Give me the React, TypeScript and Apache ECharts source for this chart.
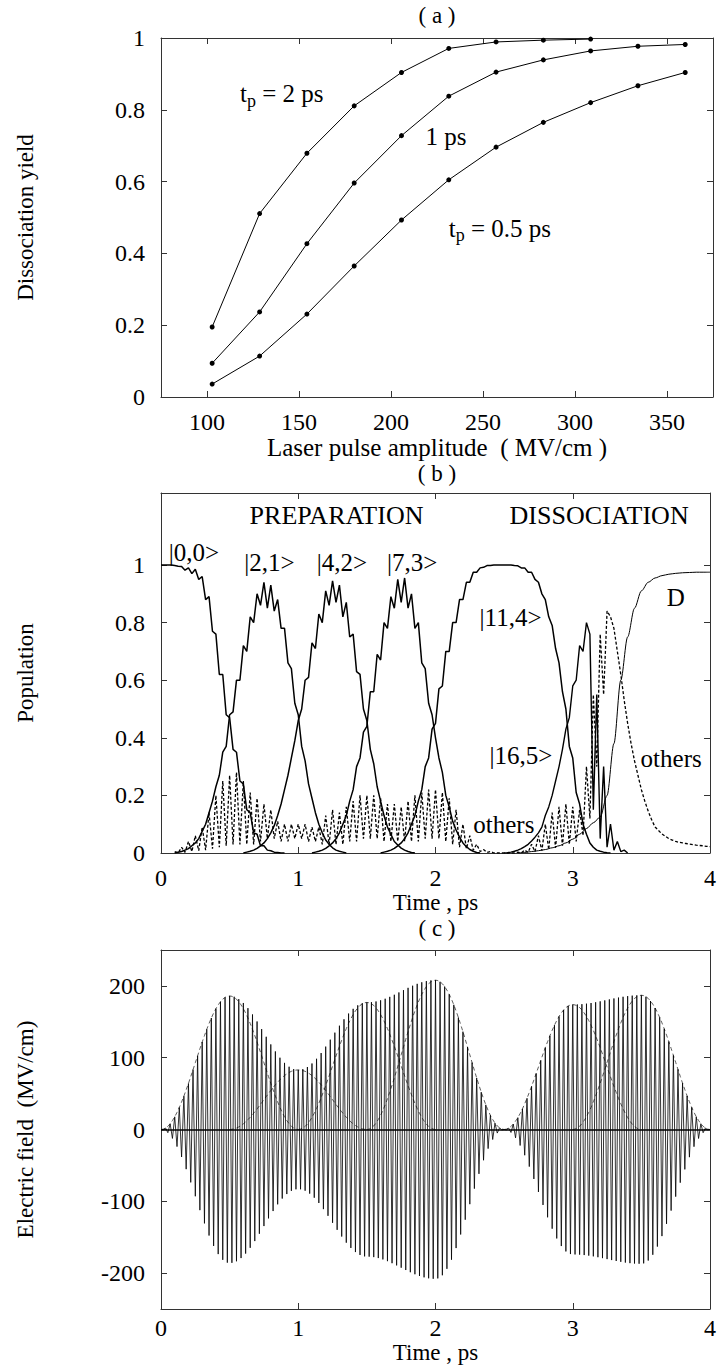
import React, { useEffect, useRef } from "react";
import * as echarts from "echarts";

// ---------------- panel (a): dissociation yield ----------------
const amplitudes = [102.8, 128.6, 154.3, 180.0, 205.7, 231.4, 257.1, 282.8, 308.5, 334.2, 359.9];
const yieldTp2 = [0.195, 0.511, 0.679, 0.811, 0.904, 0.971, 0.989, 0.994, 0.997];
const yieldTp1 = [0.094, 0.237, 0.427, 0.596, 0.728, 0.838, 0.905, 0.939, 0.964, 0.977, 0.982];
const yieldTp05 = [0.036, 0.114, 0.231, 0.365, 0.493, 0.605, 0.696, 0.765, 0.82, 0.867, 0.904];
const ampTicks = [100, 150, 200, 250, 300, 350];
const yieldTicks = [0, 0.2, 0.4, 0.6, 0.8, 1];

// ---------------- panel (b): populations (time step 0.025 ps) ----------------
const popStep = 0.025;
const pop00Start = 0;
const pop00 = [1, 1, 1, 1, 0.998, 0.996, 0.995, 0.982, 0.99, 0.97, 0.985, 0.95, 0.96, 0.88, 0.89, 0.77, 0.76, 0.62, 0.62, 0.48, 0.47, 0.36, 0.35, 0.25, 0.24, 0.15, 0.14, 0.07, 0.065, 0.025, 0.025, 0.01, 0.008, 0.003, 0.002, 0, 0];
const pop21Start = 0.1;
const pop21 = [0, 0.003, 0.005, 0.01, 0.015, 0.025, 0.035, 0.05, 0.075, 0.1, 0.14, 0.18, 0.23, 0.27, 0.35, 0.37, 0.48, 0.49, 0.6, 0.6, 0.72, 0.7, 0.82, 0.8, 0.9, 0.86, 0.94, 0.85, 0.93, 0.84, 0.88, 0.78, 0.78, 0.66, 0.64, 0.52, 0.48, 0.37, 0.32, 0.24, 0.19, 0.14, 0.1, 0.07, 0.045, 0.03, 0.018, 0.01, 0.006, 0.003, 0];
const pop42Start = 0.6;
const pop42 = [0, 0.003, 0.006, 0.01, 0.016, 0.025, 0.035, 0.05, 0.07, 0.095, 0.13, 0.17, 0.22, 0.27, 0.33, 0.39, 0.46, 0.5, 0.6, 0.61, 0.73, 0.71, 0.83, 0.8, 0.91, 0.86, 0.945, 0.87, 0.93, 0.82, 0.87, 0.75, 0.76, 0.63, 0.62, 0.5, 0.46, 0.36, 0.31, 0.23, 0.18, 0.13, 0.09, 0.065, 0.04, 0.028, 0.017, 0.01, 0.005, 0.002, 0];
const pop73Start = 1.1;
const pop73 = [0, 0.003, 0.006, 0.01, 0.016, 0.025, 0.035, 0.05, 0.07, 0.1, 0.13, 0.18, 0.22, 0.3, 0.33, 0.42, 0.44, 0.56, 0.56, 0.69, 0.67, 0.8, 0.78, 0.89, 0.85, 0.95, 0.87, 0.955, 0.85, 0.9, 0.78, 0.8, 0.66, 0.64, 0.52, 0.48, 0.4, 0.33, 0.28, 0.2, 0.16, 0.11, 0.08, 0.055, 0.035, 0.022, 0.012, 0.006, 0.002, 0];
const pop114Start = 1.6;
const pop114 = [0, 0.003, 0.006, 0.01, 0.016, 0.025, 0.035, 0.05, 0.07, 0.1, 0.13, 0.18, 0.22, 0.3, 0.33, 0.43, 0.45, 0.57, 0.58, 0.7, 0.7, 0.8, 0.8, 0.88, 0.88, 0.94, 0.94, 0.975, 0.975, 0.99, 0.992, 0.998, 0.998, 1, 1, 1, 1, 1, 1, 0.998, 0.997, 0.99, 0.99, 0.975, 0.975, 0.95, 0.94, 0.9, 0.88, 0.82, 0.79, 0.71, 0.66, 0.56, 0.5, 0.37, 0.33, 0.21, 0.17, 0.1, 0.065, 0.035, 0.02, 0.01, 0.006, 0.003, 0.001, 0];
const pop165Start = 2.5;
const pop165 = [0, 0.001, 0.003, 0.006, 0.01, 0.015, 0.022, 0.03, 0.042, 0.055, 0.07, 0.09, 0.13, 0.16, 0.2, 0.25, 0.3, 0.36, 0.43, 0.47, 0.58, 0.6, 0.72, 0.7, 0.8, 0.76, 0.15, 0.55, 0.05, 0.3, 0.02, 0.1, 0.01, 0.04, 0.005, 0.01, 0];
const dissStart = 2.6;
const dissStep = 0.05;
const dissociated = [0, 0.002, 0.005, 0.008, 0.012, 0.018, 0.025, 0.035, 0.048, 0.065, 0.085, 0.105, 0.125, 0.2, 0.38, 0.6, 0.75, 0.85, 0.91, 0.94, 0.955, 0.963, 0.968, 0.971, 0.973, 0.974, 0.975, 0.975, 0.975];
const othersStart = 0.1;
const others = [
  0.005, 0, 0.02, 0.002, 0.04, 0.005, 0.06, 0.008, 0.09, 0.01, 0.14, 0.015, 0.2, 0.02, 0.25, 0.025,
  0.27, 0.03, 0.28, 0.03, 0.25, 0.03, 0.21, 0.03, 0.19, 0.04, 0.17, 0.05, 0.15, 0.05, 0.11, 0.04,
  0.1, 0.04, 0.1, 0.05, 0.1, 0.05, 0.1, 0.04, 0.09, 0.04, 0.09, 0.03, 0.13, 0.03, 0.15, 0.03,
  0.14, 0.03, 0.16, 0.04, 0.18, 0.04, 0.2, 0.05, 0.2, 0.05, 0.2, 0.05, 0.19, 0.04, 0.17, 0.04,
  0.17, 0.04, 0.16, 0.04, 0.18, 0.04, 0.2, 0.04, 0.21, 0.05, 0.22, 0.05, 0.22, 0.05, 0.21, 0.04,
  0.19, 0.03, 0.15, 0.02, 0.1, 0.015, 0.06, 0.01, 0.03, 0.005, 0.012, 0.002, 0.005, 0, 0, 0,
  0, 0, 0, 0, 0.003, 0, 0.01, 0.002, 0.03, 0.005, 0.06, 0.008, 0.1, 0.012, 0.14, 0.018,
  0.16, 0.025, 0.17, 0.03, 0.16, 0.04, 0.15, 0.06, 0.3, 0.12, 0.55, 0.3, 0.76, 0.55, 0.84, 0.82,
  0.78, 0.7, 0.62, 0.53, 0.45, 0.38, 0.32, 0.27, 0.22, 0.18, 0.145, 0.115, 0.09, 0.078, 0.066, 0.058,
  0.05, 0.045, 0.04, 0.037, 0.035, 0.033, 0.031, 0.029, 0.027, 0.026, 0.025, 0.023, 0.022,
];
const timeTicks = [0, 1, 2, 3, 4];
const popTicks = [0, 0.2, 0.4, 0.6, 0.8, 1];

// ---------------- panel (c): electric field (time step 1/60 ps) ----------------
const fieldStep = 1 / 60;
const pulseShape = [0, 0.003, 0.011, 0.024, 0.043, 0.067, 0.095, 0.128, 0.165, 0.206, 0.25, 0.297, 0.345, 0.396, 0.448, 0.5, 0.552, 0.604, 0.655, 0.703, 0.75, 0.794, 0.835, 0.872, 0.905, 0.933, 0.957, 0.976, 0.989, 0.997, 1, 0.997, 0.989, 0.976, 0.957, 0.933, 0.905, 0.872, 0.835, 0.794, 0.75, 0.703, 0.655, 0.604, 0.552, 0.5, 0.448, 0.396, 0.345, 0.297, 0.25, 0.206, 0.165, 0.128, 0.095, 0.067, 0.043, 0.024, 0.011, 0.003, 0];
const pulseStart = [0, 0.5, 1.0, 1.5, 2.5, 3.0];
const pulseAmp = [186, 83, 177, 208, 174, 187];
const fieldTicks = [-200, -100, 0, 100, 200];
const fieldSamples = 241;

// ---------------- annotations (data coordinates) ----------------
const notesA = [
  { main: "t", sub: "p", rest: " = 2 ps", x: 140.6, y: 0.845 },
  { main: "1 ps", sub: "", rest: "", x: 229.9, y: 0.725 },
  { main: "t", sub: "p", rest: " = 0.5 ps", x: 259.2, y: 0.47 },
];
const notesB = [
  { text: "PREPARATION", x: 1.279, y: 1.172 },
  { text: "DISSOCIATION", x: 3.192, y: 1.172 },
  { text: "|0,0>", x: 0.239, y: 1.043 },
  { text: "|2,1>", x: 0.79, y: 1.008 },
  { text: "|4,2>", x: 1.319, y: 1.008 },
  { text: "|7,3>", x: 1.83, y: 1.008 },
  { text: "|11,4>", x: 2.547, y: 0.816 },
  { text: "D", x: 3.75, y: 0.886 },
  { text: "|16,5>", x: 2.623, y: 0.339 },
  { text: "others", x: 3.717, y: 0.329 },
  { text: "others", x: 2.498, y: 0.099 },
];
const panelTitles = ["( a )", "( b )", "( c )"];

// ---------------- layout ----------------
const FONT = "Liberation Serif";
const TICK_SIZE = 24;
const NAME_SIZE = 23;
const FRAME = { color: "#333", width: 1 };
const GRID_LEFT = 161;
const GRID_W = 552;
const grids = [
  { top: 38, height: 359 },
  { top: 493, height: 360 },
  { top: 950, height: 359 },
];
const titleOffsets = [23, 20, 22];

function toPoints(values: number[], start: number, step: number) {
  return values.map((v, i) => [+(start + i * step).toFixed(4), v]);
}

function bottomAxis(gridIndex: number, min: number, max: number, ticks: number[], name: string, nameGap: number, margin: number, nameSize = NAME_SIZE) {
  return {
    type: "value", gridIndex, min, max, position: "bottom",
    axisLine: { show: true, onZero: false, lineStyle: FRAME },
    axisTick: { show: true, inside: true, length: 6, customValues: ticks, lineStyle: FRAME },
    axisLabel: { show: true, customValues: ticks, margin, color: "#000", fontFamily: FONT, fontSize: TICK_SIZE },
    splitLine: { show: false },
    name, nameLocation: "middle", nameGap,
    nameTextStyle: { color: "#000", fontFamily: FONT, fontSize: nameSize },
  };
}
function topAxis(gridIndex: number, min: number, max: number, ticks: number[]) {
  return {
    type: "value", gridIndex, min, max, position: "top",
    axisLine: { show: true, onZero: false, lineStyle: FRAME },
    axisTick: { show: true, inside: true, length: 6, customValues: ticks, lineStyle: FRAME },
    axisLabel: { show: false },
    splitLine: { show: false },
  };
}
function leftAxis(gridIndex: number, min: number, max: number, ticks: number[], name: string) {
  return {
    type: "value", gridIndex, min, max, position: "left",
    axisLine: { show: true, onZero: false, lineStyle: FRAME },
    axisTick: { show: true, inside: true, length: 6, customValues: ticks, lineStyle: FRAME },
    axisLabel: { show: true, customValues: ticks, margin: 16, color: "#000", fontFamily: FONT, fontSize: TICK_SIZE },
    splitLine: { show: false },
    name, nameLocation: "middle", nameGap: 124,
    nameTextStyle: { color: "#000", fontFamily: FONT, fontSize: NAME_SIZE },
  };
}
function rightAxis(gridIndex: number, min: number, max: number, ticks: number[]) {
  return {
    type: "value", gridIndex, min, max, position: "right",
    axisLine: { show: true, onZero: false, lineStyle: FRAME },
    axisTick: { show: true, inside: true, length: 6, customValues: ticks, lineStyle: FRAME },
    axisLabel: { show: false },
    splitLine: { show: false },
  };
}

function buildField() {
  const data: number[][] = [];
  for (let k = 0; k < fieldSamples; k++) {
    const t = k * fieldStep;
    let env = 0;
    pulseStart.forEach((s, p) => {
      const j = Math.round((t - s) / fieldStep);
      if (j >= 0 && j < pulseShape.length) env += pulseAmp[p] * pulseShape[j];
    });
    data.push([+t.toFixed(5), k % 2 === 0 ? env : -env]);
  }
  return data;
}

export default function App() {
  const ref = useRef<HTMLDivElement>(null);
  useEffect(() => {
    document.body.style.margin = "0";
    if (!ref.current) return;
    const chart = echarts.init(ref.current, undefined, { renderer: "svg" });

    const lineA = (vals: number[]) => ({
      type: "line", xAxisIndex: 0, yAxisIndex: 0,
      data: vals.map((v, i) => [amplitudes[i], v]),
      symbol: "circle", symbolSize: 5, showSymbol: true,
      lineStyle: { color: "#000", width: 1 }, itemStyle: { color: "#000" },
      silent: true,
    });
    const lineB = (data: number[][], width: number, dashed = false) => ({
      type: "line", xAxisIndex: 2, yAxisIndex: 2, data, symbol: "none",
      lineStyle: { color: "#000", width, type: dashed ? [3, 2] : "solid" },
      silent: true,
    });

    const envSeries = pulseStart.map((s, p) => ({
      type: "line", xAxisIndex: 4, yAxisIndex: 4, symbol: "none",
      data: pulseShape.map((v, j) => [+(s + j * fieldStep).toFixed(5), pulseAmp[p] * v]),
      lineStyle: { color: "#333", width: 0.8, type: [4, 3] },
      silent: true,
    }));

    chart.setOption({
      animation: false,
      backgroundColor: "#fff",
      grid: grids.map((g) => ({ left: GRID_LEFT, width: GRID_W, top: g.top, height: g.height })),
      xAxis: [
        bottomAxis(0, 75, 375, ampTicks, "Laser pulse amplitude  ( MV/cm )", 35, 13, 25),
        topAxis(0, 75, 375, ampTicks),
        bottomAxis(1, 0, 4, timeTicks, "Time , ps", 34, 13),
        topAxis(1, 0, 4, timeTicks),
        bottomAxis(2, 0, 4, timeTicks, "Time , ps", 32, 7),
        topAxis(2, 0, 4, timeTicks),
      ],
      yAxis: [
        leftAxis(0, 0, 1, yieldTicks, "Dissociation yield"),
        rightAxis(0, 0, 1, yieldTicks),
        leftAxis(1, 0, 1.25, popTicks, "Population"),
        rightAxis(1, 0, 1.25, popTicks),
        leftAxis(2, -250, 250, fieldTicks, "Electric field  (MV/cm)"),
        rightAxis(2, -250, 250, fieldTicks),
      ],
      series: [
        lineA(yieldTp2),
        lineA(yieldTp1),
        lineA(yieldTp05),
        lineB(toPoints(others, othersStart, popStep), 1.3, true),
        lineB(toPoints(pop00, pop00Start, popStep), 1.5),
        lineB(toPoints(pop21, pop21Start, popStep), 1.5),
        lineB(toPoints(pop42, pop42Start, popStep), 1.5),
        lineB(toPoints(pop73, pop73Start, popStep), 1.5),
        lineB(toPoints(pop114, pop114Start, popStep), 1.5),
        lineB(toPoints(pop165, pop165Start, popStep), 1.4),
        { ...lineB(toPoints(dissociated, dissStart, dissStep), 1), smooth: 0.3, smoothMonotone: "x" },
        ...envSeries,
        {
          type: "line", xAxisIndex: 4, yAxisIndex: 4, symbol: "none",
          data: buildField(),
          lineStyle: { color: "#000", width: 0.8 },
          silent: true,
          markLine: {
            silent: true, symbol: "none", label: { show: false },
            lineStyle: { color: "#000", width: 1.6, type: "solid" },
            data: [{ yAxis: 0 }],
          },
        },
      ],
    });

    const toPx = (idx: number, x: number, y: number) =>
      chart.convertToPixel({ xAxisIndex: idx * 2, yAxisIndex: idx * 2 }, [x, y]) as number[];

    const elements: any[] = [];
    panelTitles.forEach((t, i) => {
      elements.push({
        type: "text", x: GRID_LEFT + GRID_W / 2, y: grids[i].top - titleOffsets[i], silent: true,
        style: { text: t, font: `23px ${FONT}`, fill: "#000", align: "center", verticalAlign: "middle", textAlign: "center", textVerticalAlign: "middle" },
      });
    });
    notesA.forEach((n) => {
      const [px, py] = toPx(0, n.x, n.y);
      const text = n.sub ? `{m|${n.main}}{s|${n.sub}}{m|${n.rest}}` : `{m|${n.main}}`;
      elements.push({
        type: "text", x: px, y: py, silent: true,
        style: {
          text,
          rich: {
            m: { fontSize: 25, fontFamily: FONT, fill: "#000" },
            s: { fontSize: 18, fontFamily: FONT, fill: "#000", padding: [14, 0, 0, 0] },
          },
          font: `25px ${FONT}`, fill: "#000", align: "center", verticalAlign: "middle", textAlign: "center", textVerticalAlign: "middle",
        },
      });
    });
    notesB.forEach((n) => {
      const [px, py] = toPx(1, n.x, n.y);
      const size = n.text === "PREPARATION" || n.text === "DISSOCIATION" ? 26 : 25;
      elements.push({
        type: "text", x: px, y: py, silent: true,
        style: { text: n.text, font: `${size}px ${FONT}`, fill: "#000", align: "center", verticalAlign: "middle", textAlign: "center", textVerticalAlign: "middle" },
      });
    });
    chart.setOption({ graphic: { elements } });

    return () => chart.dispose();
  }, []);
  return <div ref={ref} style={{ width: 719, height: 1371 }} />;
}
